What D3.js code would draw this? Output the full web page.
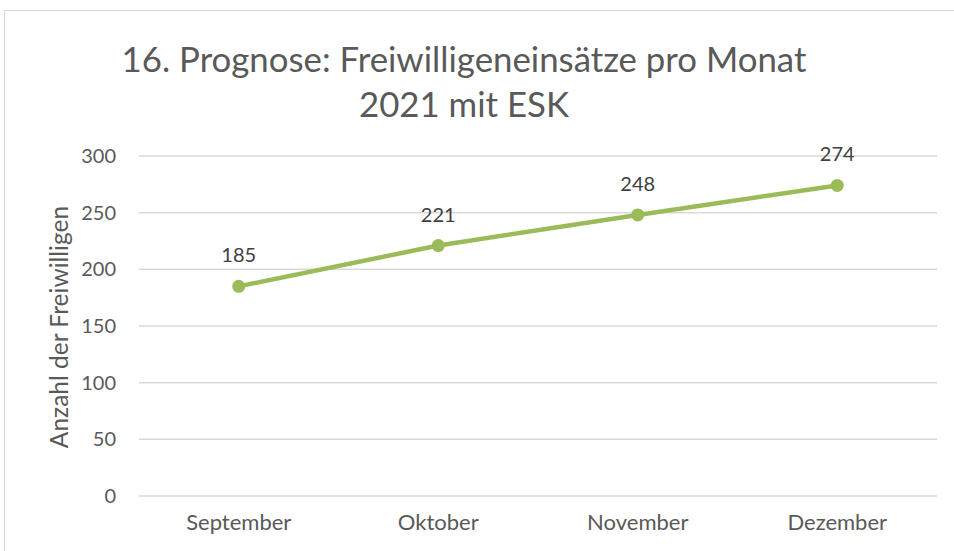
<!DOCTYPE html>
<html>
<head>
<meta charset="utf-8">
<script src="https://cdn.jsdelivr.net/npm/d3@7"></script>
<style>
  body { margin: 0; background: #fff; }
  text { font-family: Lato, "Open Sans", sans-serif; }
</style>
</head>
<body>
<svg id="chart" width="954" height="551"></svg>
<script>
// chart data
var months = ['September', 'Oktober', 'November', 'Dezember'];
var einsaetze = [185, 221, 248, 274];
var yTicks = [0, 50, 100, 150, 200, 250, 300];
var titleLines = ['16. Prognose: Freiwilligeneinsätze pro Monat', '2021 mit ESK'];
var yTitle = 'Anzahl der Freiwilligen';

var margin = { top: 156, right: 17, bottom: 55, left: 139 };
var width = 954, height = 551;

var svg = d3.select('#chart');

// outer frame like the Excel chart area
svg.append('rect')
  .attr('x', 4.5).attr('y', 10.5)
  .attr('width', 960).attr('height', 560)
  .attr('fill', '#fff')
  .attr('stroke', '#d9d9d9');

var x = d3.scaleBand().domain(months).range([margin.left, width - margin.right]);
var y = d3.scaleLinear().domain([0, 300]).range([height - margin.bottom, margin.top]);

// gridlines
svg.append('g').selectAll('line').data(yTicks).enter().append('line')
  .attr('x1', margin.left).attr('x2', width - margin.right)
  .attr('y1', d => y(d)).attr('y2', d => y(d))
  .attr('stroke', '#d9d9d9').attr('stroke-width', 1.5);

// y axis labels
var yAxis = d3.axisLeft(y).tickValues(yTicks).tickSize(0).tickPadding(0);
svg.append('g')
  .attr('transform', 'translate(116,0)')
  .call(yAxis)
  .call(g => g.select('.domain').remove())
  .selectAll('text')
  .attr('fill', '#595959')
  .style('font-size', '20px');

// x axis labels
var xAxis = d3.axisBottom(x).tickSize(0).tickPadding(0);
svg.append('g')
  .attr('transform', 'translate(0,' + (height - margin.bottom + 18) + ')')
  .call(xAxis)
  .call(g => g.select('.domain').remove())
  .selectAll('text')
  .attr('fill', '#595959')
  .style('font-size', '22px');

// line
var line = d3.line()
  .x((d, i) => x(months[i]) + x.bandwidth() / 2)
  .y(d => y(d));

svg.append('path')
  .datum(einsaetze)
  .attr('d', line)
  .attr('fill', 'none')
  .attr('stroke', '#9bbb59')
  .attr('stroke-width', 4.5)
  .attr('stroke-linejoin', 'round');

svg.append('g').selectAll('circle').data(einsaetze).enter().append('circle')
  .attr('cx', (d, i) => x(months[i]) + x.bandwidth() / 2)
  .attr('cy', d => y(d))
  .attr('r', 6.5)
  .attr('fill', '#9bbb59');

// data labels
svg.append('g').selectAll('text').data(einsaetze).enter().append('text')
  .attr('x', (d, i) => x(months[i]) + x.bandwidth() / 2)
  .attr('y', d => y(d) - 24)
  .attr('text-anchor', 'middle')
  .attr('fill', '#404040')
  .style('font-size', '20px')
  .text(d => d);

// title
svg.append('text')
  .attr('text-anchor', 'middle')
  .attr('fill', '#595959')
  .style('font-size', '34.8px')
  .selectAll('tspan').data(titleLines).enter().append('tspan')
  .attr('x', 464)
  .attr('y', (d, i) => 72 + i * 45)
  .text(d => d);

// y axis title
svg.append('text')
  .attr('transform', 'translate(68,327) rotate(-90)')
  .attr('text-anchor', 'middle')
  .attr('fill', '#595959')
  .style('font-size', '24.5px')
  .text(yTitle);
</script>
</body>
</html>
